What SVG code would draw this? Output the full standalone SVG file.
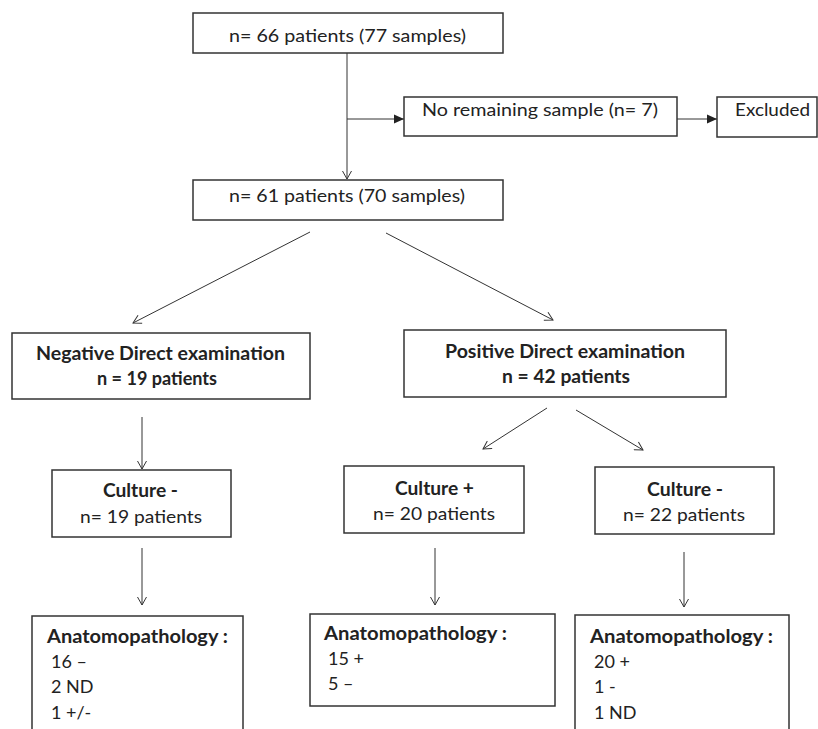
<svg xmlns="http://www.w3.org/2000/svg" width="818" height="729" viewBox="0 0 818 729">
<defs>
<style>
.box{fill:#fff;stroke:#333;stroke-width:1.5}
.t{font-family:Lato,"Liberation Sans",sans-serif;font-size:18px;fill:#222}
.b{font-weight:bold}
.m{text-anchor:middle}
.c{fill:none;stroke:#333;stroke-width:1}
</style>
<marker id="open" viewBox="0 0 10 10" refX="9" refY="5" markerWidth="10" markerHeight="10" markerUnits="userSpaceOnUse" orient="auto">
<path d="M1,0.5 L9,5 L1,9.5" fill="none" stroke="#333" stroke-width="1"/>
</marker>
<marker id="fill" viewBox="0 0 12 12" refX="11" refY="6" markerWidth="12" markerHeight="12" markerUnits="userSpaceOnUse" orient="auto">
<path d="M1,1.5 L11,6 L1,10.5 z" fill="#222"/>
</marker>
</defs>
<rect width="818" height="729" fill="#fff"/>
<g id="connectors">
<line class="c" x1="347" y1="53" x2="347" y2="179" marker-end="url(#open)"/>
<line class="c" x1="347" y1="119" x2="404" y2="119" marker-end="url(#fill)"/>
<line class="c" x1="677" y1="119" x2="717" y2="119" marker-end="url(#fill)"/>
<line class="c" x1="310" y1="232" x2="133" y2="323" marker-end="url(#open)"/>
<line class="c" x1="386" y1="233" x2="553" y2="320" marker-end="url(#open)"/>
<line class="c" x1="142" y1="417" x2="142" y2="469" marker-end="url(#open)"/>
<line class="c" x1="547" y1="408" x2="483" y2="449" marker-end="url(#open)"/>
<line class="c" x1="576" y1="410" x2="643" y2="450" marker-end="url(#open)"/>
<line class="c" x1="142" y1="548" x2="142" y2="605" marker-end="url(#open)"/>
<line class="c" x1="435" y1="548" x2="435" y2="605" marker-end="url(#open)"/>
<line class="c" x1="684" y1="552" x2="684" y2="607" marker-end="url(#open)"/>
</g>
<g id="n66">
<rect class="box" x="193" y="13" width="310" height="40"/>
<text class="t m" x="347.5" y="42" textLength="237" lengthAdjust="spacingAndGlyphs">n= 66 patients (77 samples)</text>
</g>
<g id="noremain">
<rect class="box" x="404" y="97" width="273" height="39"/>
<text class="t m" x="540" y="116" textLength="236" lengthAdjust="spacingAndGlyphs">No remaining sample (n= 7)</text>
</g>
<g id="excluded">
<rect class="box" x="717" y="97" width="100" height="40"/>
<text class="t m" x="772.5" y="116" textLength="75" lengthAdjust="spacingAndGlyphs">Excluded</text>
</g>
<g id="n61">
<rect class="box" x="193" y="180" width="310" height="40"/>
<text class="t m" x="347" y="202" textLength="236" lengthAdjust="spacingAndGlyphs">n= 61 patients (70 samples)</text>
</g>
<g id="negative">
<rect class="box" x="12" y="333" width="298" height="66"/>
<text class="t b m" x="160.5" y="360" textLength="249" lengthAdjust="spacingAndGlyphs">Negative Direct examination</text>
<text class="t b m" x="157" y="385" textLength="120" lengthAdjust="spacingAndGlyphs">n = 19 patients</text>
</g>
<g id="positive">
<rect class="box" x="404" y="330" width="322" height="67"/>
<text class="t b m" x="565" y="358" textLength="240" lengthAdjust="spacingAndGlyphs">Positive Direct examination</text>
<text class="t b m" x="566" y="383" textLength="128" lengthAdjust="spacingAndGlyphs">n = 42 patients</text>
</g>
<g id="cultureNegLeft">
<rect class="box" x="52" y="470" width="179" height="67"/>
<text class="t b m" x="140.5" y="497" textLength="75" lengthAdjust="spacingAndGlyphs">Culture -</text>
<text class="t m" x="141" y="523" textLength="122" lengthAdjust="spacingAndGlyphs">n= 19 patients</text>
</g>
<g id="culturePos">
<rect class="box" x="344" y="466" width="180" height="67"/>
<text class="t b m" x="434.5" y="495" textLength="79" lengthAdjust="spacingAndGlyphs">Culture +</text>
<text class="t m" x="434" y="520" textLength="122" lengthAdjust="spacingAndGlyphs">n= 20 patients</text>
</g>
<g id="cultureNegRight">
<rect class="box" x="595" y="467" width="179" height="67"/>
<text class="t b m" x="685" y="496" textLength="76" lengthAdjust="spacingAndGlyphs">Culture -</text>
<text class="t m" x="684" y="521" textLength="122" lengthAdjust="spacingAndGlyphs">n= 22 patients</text>
</g>
<g id="anatLeft">
<rect class="box" x="32" y="616" width="211" height="130"/>
<text class="t b" x="47" y="643" textLength="181" lengthAdjust="spacingAndGlyphs">Anatomopathology :</text>
<text class="t" x="51" y="668">16 –</text>
<text class="t" x="51" y="693">2 ND</text>
<text class="t" x="51" y="719">1 +/-</text>
</g>
<g id="anatMiddle">
<rect class="box" x="310" y="614" width="245" height="92"/>
<text class="t b" x="324" y="640" textLength="183" lengthAdjust="spacingAndGlyphs">Anatomopathology :</text>
<text class="t" x="328" y="665">15 +</text>
<text class="t" x="328" y="690">5 –</text>
</g>
<g id="anatRight">
<rect class="box" x="575" y="615" width="214" height="130"/>
<text class="t b" x="590" y="643" textLength="183" lengthAdjust="spacingAndGlyphs">Anatomopathology :</text>
<text class="t" x="594" y="668">20 +</text>
<text class="t" x="594" y="693">1 -</text>
<text class="t" x="594" y="719">1 ND</text>
</g>
</svg>
